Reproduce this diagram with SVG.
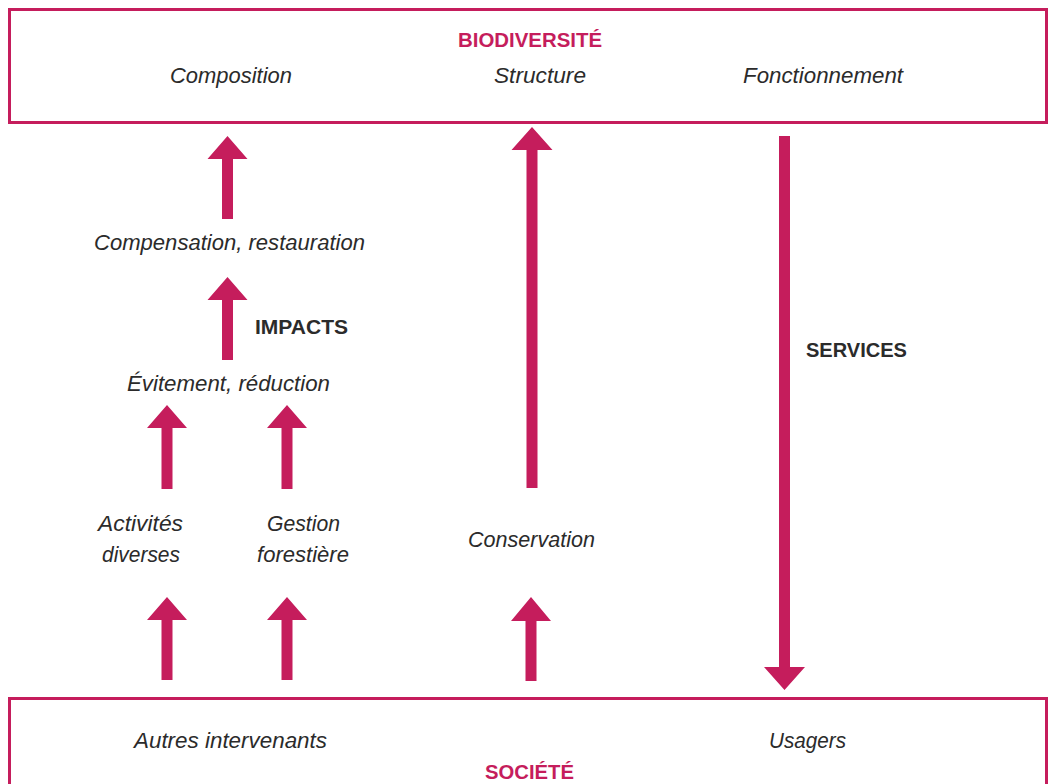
<svg xmlns="http://www.w3.org/2000/svg" width="1049" height="784" viewBox="0 0 1049 784">
<style>
.box{fill:#fff;stroke:#C51D5C;stroke-width:3}
.arr{fill:#C51D5C}
.t{font-family:"Liberation Sans",Arial,sans-serif;font-style:italic;font-size:22.5px;fill:#2b2b2b;text-anchor:middle}
.h{font-family:"Liberation Sans",Arial,sans-serif;font-weight:bold;font-size:20px;fill:#C51D5C;text-anchor:middle}
.k{font-family:"Liberation Sans",Arial,sans-serif;font-weight:bold;font-size:21px;fill:#2b2b2b;text-anchor:middle}
</style>
<rect width="1049" height="784" fill="#fff"/>
<g id="biodiversite">
<rect class="box" x="9.5" y="9.5" width="1037" height="113"/>
<text class="h" x="530" y="46.5" textLength="144" lengthAdjust="spacingAndGlyphs">BIODIVERSITÉ</text>
<text class="t" x="231" y="82.5" textLength="122" lengthAdjust="spacingAndGlyphs">Composition</text>
<text class="t" x="540" y="82.5" textLength="92" lengthAdjust="spacingAndGlyphs">Structure</text>
<text class="t" x="823" y="82.5" textLength="160" lengthAdjust="spacingAndGlyphs">Fonctionnement</text>
</g>
<g id="societe">
<rect class="box" x="9.5" y="698.5" width="1037" height="100"/>
<text class="t" x="230.5" y="747.5" textLength="193" lengthAdjust="spacingAndGlyphs">Autres intervenants</text>
<text class="t" x="807.5" y="747.5" textLength="77" lengthAdjust="spacingAndGlyphs">Usagers</text>
<text class="h" x="529.5" y="778.5" textLength="89" lengthAdjust="spacingAndGlyphs">SOCIÉTÉ</text>
</g>
<g id="compensation"><text class="t" x="229.5" y="249.5" textLength="271" lengthAdjust="spacingAndGlyphs">Compensation, restauration</text></g>
<g id="evitement"><text class="t" x="228.5" y="390.5" textLength="203" lengthAdjust="spacingAndGlyphs">Évitement, réduction</text></g>
<g id="activites"><text class="t" x="140.5" y="530.5" textLength="85" lengthAdjust="spacingAndGlyphs">Activités</text><text class="t" x="141" y="561.5" textLength="78" lengthAdjust="spacingAndGlyphs">diverses</text></g>
<g id="gestion"><text class="t" x="303.5" y="530.5" textLength="73" lengthAdjust="spacingAndGlyphs">Gestion</text><text class="t" x="303" y="561.5" textLength="92" lengthAdjust="spacingAndGlyphs">forestière</text></g>
<g id="conservation"><text class="t" x="531.5" y="546.5" textLength="127" lengthAdjust="spacingAndGlyphs">Conservation</text></g>
<g id="connectors">
<polygon class="arr" points="227.5,136 247.5,159 233,159 233,219 222,219 222,159 207.5,159"/>
<polygon class="arr" points="227.5,277 247.5,300 233,300 233,360 222,360 222,300 207.5,300"/>
<polygon class="arr" points="167,405 187,428 172.5,428 172.5,489 161.5,489 161.5,428 147,428"/>
<polygon class="arr" points="287,405 307,428 292.5,428 292.5,489 281.5,489 281.5,428 267,428"/>
<polygon class="arr" points="167,597 187,620 172.5,620 172.5,680 161.5,680 161.5,620 147,620"/>
<polygon class="arr" points="287,597 307,620 292.5,620 292.5,680 281.5,680 281.5,620 267,620"/>
<polygon class="arr" points="532,127 552.5,150 537.5,150 537.5,488 526.5,488 526.5,150 511.5,150"/>
<polygon class="arr" points="531,597 551,621 536.5,621 536.5,681 525.5,681 525.5,621 511,621"/>
<polygon class="arr" points="779,136 790,136 790,667 805,667 784.5,690 764,667 779,667"/>
<text class="k" x="301.5" y="333.5" textLength="93" lengthAdjust="spacingAndGlyphs">IMPACTS</text>
<text class="k" x="856.5" y="357" textLength="101" lengthAdjust="spacingAndGlyphs">SERVICES</text>
</g>
</svg>
